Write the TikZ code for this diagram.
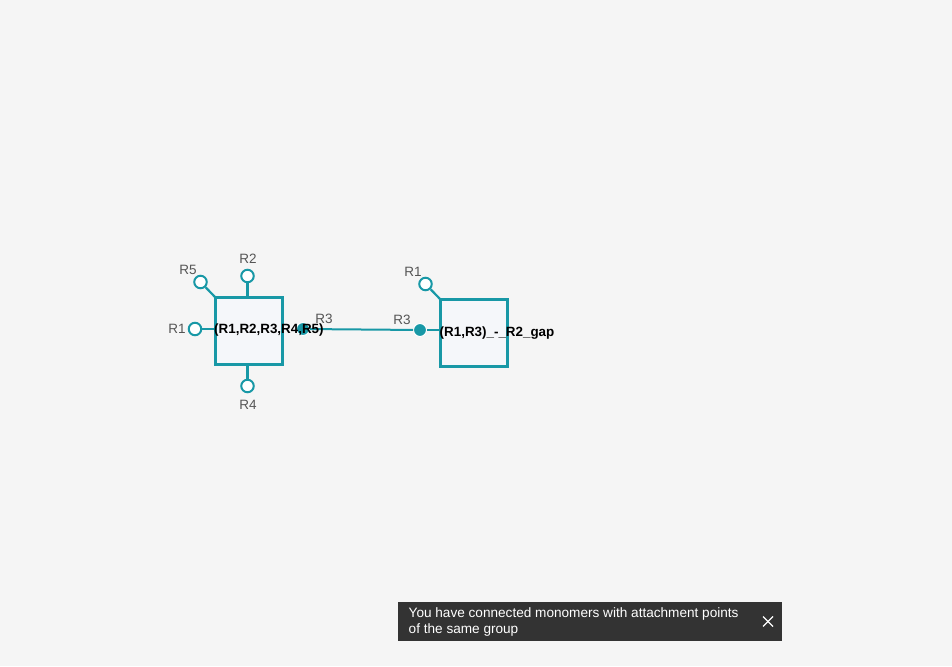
\documentclass[tikz,border=0pt]{standalone}
\usepackage{fontspec}
\setmainfont{Liberation Sans}
\definecolor{bg}{HTML}{F5F5F5}
\definecolor{teal}{HTML}{1898A6}
\definecolor{boxfill}{HTML}{F5F7FA}
\definecolor{lbl}{HTML}{555555}
\definecolor{toast}{HTML}{333333}
\begin{document}
\begin{tikzpicture}[x=1pt,y=-1pt,
  mono/.style={draw=teal,line width=3pt,fill=boxfill,minimum width=67pt,minimum height=67pt,inner sep=0pt},
  apopen/.style={circle,draw=teal,line width=2pt,fill=white,minimum size=12.5pt,inner sep=0pt},
  apfull/.style={circle,draw=white,line width=1pt,fill=teal,minimum size=13pt,inner sep=0pt},
  stub/.style={draw=teal,line width=2.2pt},
  bond/.style={draw=teal,line width=2pt},
  aplbl/.style={text=lbl,font=\fontsize{13.5}{15}\selectfont,inner sep=0pt},
  monolbl/.style={font=\bfseries\fontsize{13.4}{15}\selectfont,inner sep=0pt,anchor=west},
  toastbox/.style={fill=toast,draw=none,minimum width=384pt,minimum height=39pt,inner sep=0pt},
  toasttxt/.style={text=white,font=\fontsize{13.6}{16}\selectfont,align=left,inner sep=0pt,anchor=west},
  closex/.style={draw=white,line width=1.3pt}]
\useasboundingbox[fill=bg] (0,0) rectangle (952,666);
% left monomer
\node[mono] (m1) at (248.5,330.5) {};
\coordinate (m1nw) at (215,297);
\node[apopen] (a1r1) at (195,329) {};
\node[apopen] (a1r2) at (247.5,276) {};
\node[apopen] (a1r5) at (200.5,282) {};
\node[apopen] (a1r4) at (247.5,386) {};
\node[apfull] (a1r3) at (303,329) {};
\draw[stub] (a1r1) -- (m1.west |- a1r1);
\draw[stub] (a1r2) -- (a1r2 |- m1.north);
\draw[stub] (a1r5) -- (m1nw);
\draw[stub] (a1r4) -- (a1r4 |- m1.south);
\node[aplbl] (l1r1) at (177,329) {R1};
\node[aplbl] (l1r2) at (248,259) {R2};
\node[aplbl] (l1r5) at (188,270) {R5};
\node[aplbl] (l1r4) at (248,405) {R4};
\node[aplbl] (l1r3) at (324,319) {R3};
% right monomer
\node[mono] (m2) at (473.5,332.5) {};
\coordinate (m2nw) at (440,299);
\node[apopen] (a2r1) at (425.5,284) {};
\node[apfull] (a2r3) at (420,330) {};
\draw[stub] (a2r1) -- (m2nw);
\draw[stub] (a2r3) -- (m2.west |- a2r3);
\node[aplbl] (l2r1) at (413,272) {R1};
\node[aplbl] (l2r3) at (402,320) {R3};
% bond
\draw[bond] (a1r3) -- (a2r3);
% monomer names
\node[monolbl] (n1) at (214,330.5) {(R1,R2,R3,R4,R5)};
\node[monolbl] (n2) at (439.5,333) {(R1,R3)\_-\_R2\_gap};
% toast
\node[toastbox] (tb) at (590,621.5) {};
\node[toasttxt] (tt) at (408.5,621.5) {You have connected monomers with attachment points\\of the same group};
\coordinate (xc) at (768,621.5);
\draw[closex] ([shift={(-5,-5)}]xc) -- ([shift={(5,5)}]xc);
\draw[closex] ([shift={(-5,5)}]xc) -- ([shift={(5,-5)}]xc);
\end{tikzpicture}
\end{document}
